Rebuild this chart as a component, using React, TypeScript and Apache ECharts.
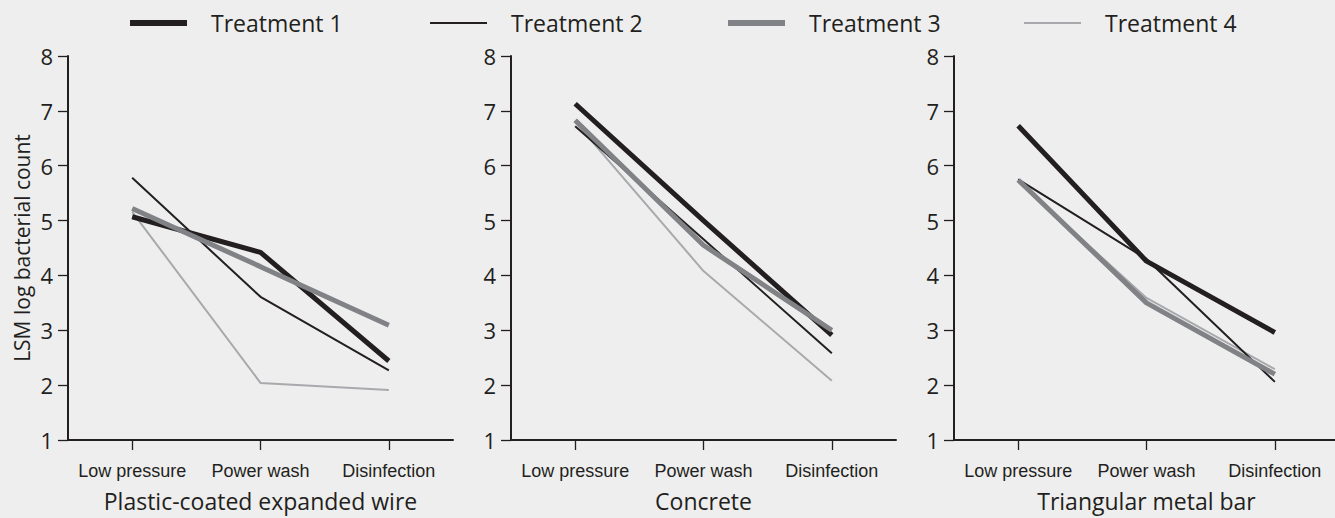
import React, { useEffect, useRef } from "react";
import * as echarts from "echarts";

const categories = ["Low pressure", "Power wash", "Disinfection"];
const panelNames = ["Plastic-coated expanded wire", "Concrete", "Triangular metal bar"];
const treatmentNames = ["Treatment 1", "Treatment 2", "Treatment 3", "Treatment 4"];
const yTicks = [1, 2, 3, 4, 5, 6, 7, 8];

// values per panel, one array per treatment, in category order
const wireT1 = [5.07, 4.42, 2.44];
const wireT2 = [5.78, 3.61, 2.27];
const wireT3 = [5.22, 4.16, 3.09];
const wireT4 = [5.16, 2.04, 1.91];

const concreteT1 = [7.13, 5.0, 2.91];
const concreteT2 = [6.72, 4.66, 2.58];
const concreteT3 = [6.83, 4.55, 3.0];
const concreteT4 = [6.8, 4.08, 2.08];

const metalT1 = [6.73, 4.26, 2.96];
const metalT2 = [5.75, 4.3, 2.06];
const metalT3 = [5.74, 3.5, 2.2];
const metalT4 = [5.71, 3.59, 2.29];

const panels = [
  [wireT1, wireT2, wireT3, wireT4],
  [concreteT1, concreteT2, concreteT3, concreteT4],
  [metalT1, metalT2, metalT3, metalT4],
];

const DARK = "#231f20";
const colors = [DARK, DARK, "#808285", "#a7a9ac"];
const widths = [5, 2, 5, 2];
const legendWidths = [6, 2, 6, 2];
const zOrder = [3, 2, 4, 1];
const legendLeft = [130, 430, 728, 1024];
const gridLeft = [68, 511, 954];

const SANS = "'Open Sans', 'Noto Sans', sans-serif";
const NARROW = "'Liberation Sans', Arial, sans-serif";

export default function App() {
  const ref = useRef<HTMLDivElement>(null);
  useEffect(() => {
    if (!ref.current) return;
    const chart = echarts.init(ref.current, undefined, { renderer: "svg" });

    const grid = gridLeft.map((l) => ({
      left: l,
      top: 56,
      width: 385,
      height: 384,
      containLabel: false,
      outerBoundsMode: "none",
    }));
    const xAxis = panelNames.map((name, i) => ({
      type: "category",
      gridIndex: i,
      data: categories,
      boundaryGap: true,
      name,
      nameLocation: "middle",
      nameGap: 49,
      nameTextStyle: { fontSize: 23, color: DARK, fontFamily: SANS },
      axisLine: { show: true, lineStyle: { color: DARK, width: 2 } },
      axisTick: { show: true, alignWithLabel: true, length: 10, lineStyle: { color: DARK, width: 1.3 } },
      axisLabel: { fontSize: 18, color: DARK, fontFamily: NARROW, margin: 22, interval: 0 },
      splitLine: { show: false },
    }));
    const yAxis = panelNames.map((_, i) => ({
      type: "value",
      gridIndex: i,
      min: yTicks[0],
      max: yTicks[yTicks.length - 1],
      interval: 1,
      name: i === 0 ? "LSM log bacterial count" : "",
      nameLocation: "middle",
      nameGap: 36,
      nameTextStyle: { fontSize: 21, color: DARK, fontFamily: SANS },
      axisLine: { show: true, lineStyle: { color: DARK, width: 2 } },
      axisTick: { show: true, length: 10, lineStyle: { color: DARK, width: 1.3 } },
      axisLabel: { fontSize: 22, color: DARK, fontFamily: SANS, margin: 15 },
      splitLine: { show: false },
    }));

    const series: any[] = [];
    panels.forEach((p, i) => {
      p.forEach((vals, t) => {
        series.push({
          type: "line",
          name: treatmentNames[t],
          xAxisIndex: i,
          yAxisIndex: i,
          data: vals,
          symbol: "none",
          z: zOrder[t],
          color: colors[t],
          lineStyle: { color: colors[t], width: widths[t] },
        });
      });
    });

    const legend = treatmentNames.map((n, t) => ({
      left: legendLeft[t],
      top: 8,
      padding: 0,
      itemWidth: 57,
      itemHeight: legendWidths[t],
      icon: "rect",
      data: [{ name: n, icon: "rect", itemStyle: { color: colors[t] } }],
      textStyle: {
        fontSize: 23,
        color: DARK,
        fontFamily: SANS,
        lineHeight: 30,
        padding: [0, 0, 0, 19],
      },
      selectedMode: false,
    }));

    chart.setOption({
      animation: false,
      backgroundColor: "#eeeeee",
      grid,
      xAxis,
      yAxis,
      legend,
      series,
    });
    return () => chart.dispose();
  }, []);
  return (
    <div
      ref={ref}
      style={{ position: "fixed", left: 0, top: 0, width: 1335, height: 518 }}
    />
  );
}
